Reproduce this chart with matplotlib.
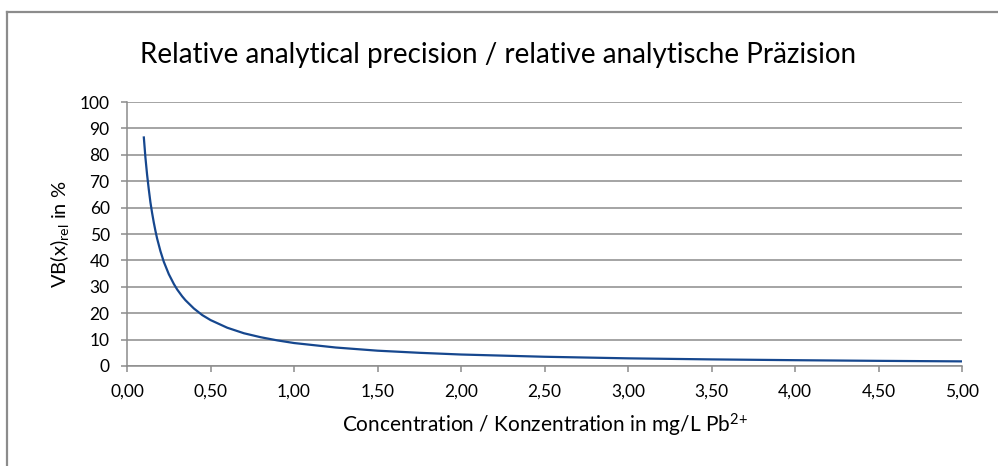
import matplotlib.pyplot as plt
from matplotlib.lines import Line2D
from matplotlib.ticker import FuncFormatter

plt.rcParams['font.family'] = ['Lato', 'DejaVu Sans']
plt.rcParams['mathtext.fontset'] = 'custom'
plt.rcParams['mathtext.rm'] = 'Lato'
plt.rcParams['mathtext.it'] = 'Lato'
plt.rcParams['mathtext.default'] = 'regular'

# values
conc = [0.10, 0.11, 0.12, 0.13, 0.14, 0.15, 0.16, 0.17, 0.18, 0.20, 0.22,
        0.25, 0.28, 0.30, 0.33, 0.35, 0.40, 0.45, 0.50, 0.60, 0.70, 0.80,
        0.90, 1.00, 1.25, 1.50, 1.75, 2.00, 2.50, 3.00, 3.50, 4.00, 4.50, 5.00]
vb_rel = [87.0, 79.0, 72.5, 67.0, 62.0, 58.0, 54.4, 51.2, 48.3, 43.5, 39.5,
          34.8, 31.1, 29.0, 26.4, 24.9, 21.8, 19.3, 17.4, 14.5, 12.4, 10.9,
          9.7, 8.7, 7.0, 5.8, 5.0, 4.35, 3.5, 2.9, 2.5, 2.2, 1.95, 1.75]

fig = plt.figure(figsize=(9.98, 4.66), dpi=100)
ax = fig.add_axes([0.1273, 0.2146, 0.964 - 0.1273, 0.781 - 0.2146])

ax.plot(conc, vb_rel, color='#16478E', linewidth=1.6, solid_capstyle='butt')

ax.set_xlim(0, 5)
ax.set_ylim(0, 100)
ax.set_xticks([0.5 * i for i in range(11)])
ax.set_yticks(range(0, 101, 10))
ax.xaxis.set_major_formatter(FuncFormatter(lambda v, p: f'{v:.2f}'.replace('.', ',')))

ax.grid(axis='y', color='#8c8c8c', linewidth=1.1)
ax.set_axisbelow(True)
for s in ['top', 'right']:
    ax.spines[s].set_visible(False)
for s in ['left', 'bottom']:
    ax.spines[s].set_color('#8c8c8c')
    ax.spines[s].set_linewidth(1.1)
ax.tick_params(axis='both', colors='#8c8c8c', length=4.5, width=1.1,
               labelcolor='black', labelsize=12.5)
ax.tick_params(axis='y', pad=8)
ax.tick_params(axis='x', pad=8)

ax.set_xlabel('Concentration / Konzentration in mg/L Pb$^{2{+}}$', fontsize=15, labelpad=9)
ax.set_ylabel('VB(x)$_{rel}$ in %', fontsize=14.5, labelpad=6)
fig.text(0.499, 0.882, 'Relative analytical precision / relative analytische Präzision',
         ha='center', va='center', fontsize=20)

# chart frame (cropped on right and bottom)
fig.add_artist(Line2D([7 / 998, 7 / 998], [0, 1 - 12 / 466], transform=fig.transFigure,
                      color='#8c8c8c', linewidth=1.6))
fig.add_artist(Line2D([7 / 998, 1], [1 - 12 / 466, 1 - 12 / 466], transform=fig.transFigure,
                      color='#8c8c8c', linewidth=1.6))

fig.savefig('out.png', dpi=100)
